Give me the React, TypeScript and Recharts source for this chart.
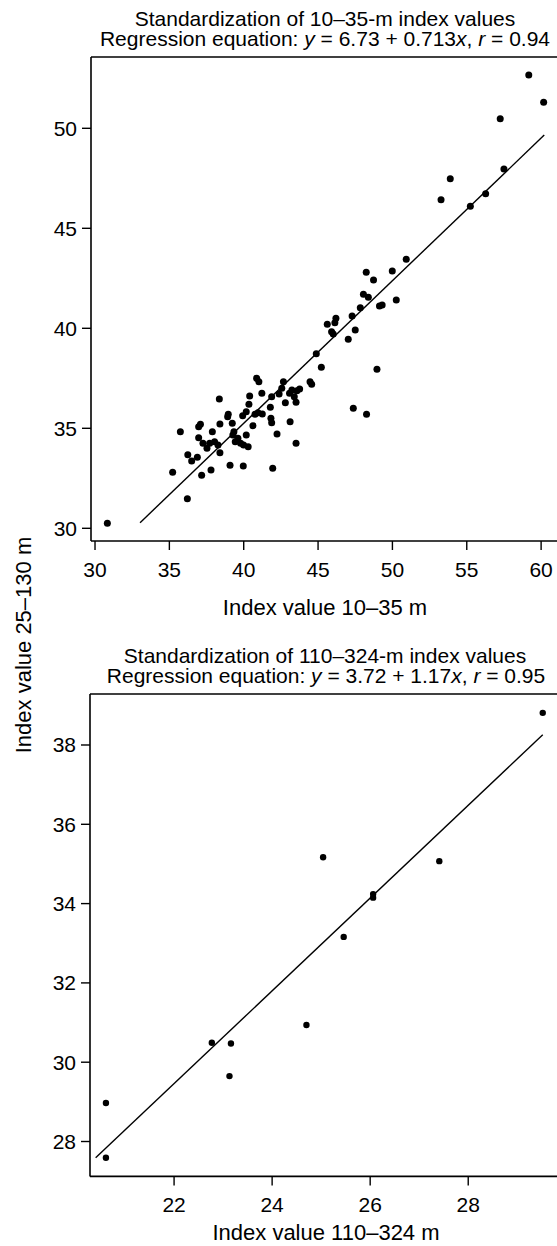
import React from 'react';
import { ScatterChart, Scatter, XAxis, YAxis, ReferenceLine } from 'recharts';

// ---------- Top panel: 10–35 m vs 25–130 m ----------
const topX = [
  30.83, 36.21, 35.22, 37.17, 37.8, 39.08, 39.97, 41.95, 35.74, 36.24,
  36.5, 36.88, 36.97, 37.09, 36.97, 37.26, 37.53, 37.71, 38.04, 38.27,
  37.89, 38.4, 38.4, 38.36, 38.92, 38.96, 39.23, 39.34, 39.27, 39.43,
  39.61, 39.79, 39.99, 40.17, 40.3, 39.93, 40.17, 40.35, 40.4, 40.62,
  40.76, 40.96, 41.25, 40.87, 41.02, 41.22, 41.79, 41.88, 41.83, 41.88,
  42.24, 42.38, 42.56, 42.67, 42.8, 43.08, 43.24, 43.4, 43.58, 43.76,
  43.52, 43.12, 43.52, 44.46, 44.57, 44.88, 45.22, 45.62, 46.2, 46.13,
  45.91, 46.02, 47.5, 47.03, 47.29, 47.84, 49.13, 49.31, 50.26, 48.05,
  48.38, 48.96, 47.37, 48.26, 48.24, 48.73, 49.99, 50.93, 53.27, 53.89,
  55.24, 56.27, 57.5, 57.25, 59.17, 60.17,
];
const topY = [
  30.25, 31.48, 32.8, 32.65, 32.92, 33.15, 33.12, 33.0, 34.83, 33.68,
  33.37, 33.55, 35.08, 35.2, 34.53, 34.25, 34.0, 34.25, 34.33, 34.17,
  34.83, 33.78, 35.22, 36.47, 35.58, 35.7, 35.25, 34.83, 34.67, 34.33,
  34.5, 34.25, 34.17, 34.67, 34.08, 35.63, 35.83, 36.2, 36.62, 35.13,
  35.7, 35.78, 35.72, 37.5, 37.33, 36.75, 36.05, 36.58, 35.5, 35.28,
  34.72, 36.72, 37.0, 37.33, 36.28, 36.75, 36.92, 36.58, 36.88, 36.97,
  36.3, 35.33, 34.25, 37.33, 37.2, 38.73, 38.05, 40.2, 40.5, 40.28,
  39.83, 39.71, 39.92, 39.45, 40.62, 41.03, 41.12, 41.17, 41.42, 41.7,
  41.55, 37.95, 36.0, 35.7, 42.8, 42.42, 42.87, 43.45, 46.43, 47.48,
  46.1, 46.73, 47.97, 50.48, 52.67, 51.3,
];
const topXTicks = [30, 35, 40, 45, 50, 55, 60];
const topYTicks = [30, 35, 40, 45, 50];
const topFit = { a: 6.73, b: 0.713, r: 0.94 };
const topFitX = [33.03, 60.21];

// ---------- Bottom panel: 110–324 m vs 25–130 m ----------
const bottomX = [29.52, 25.04, 27.41, 26.06, 26.06, 25.46, 24.7, 22.77, 23.16, 23.13, 20.61, 20.61];
const bottomY = [38.81, 35.17, 35.07, 34.24, 34.15, 33.16, 30.94, 30.49, 30.47, 29.65, 28.97, 27.59];
const bottomXTicks = [22, 24, 26, 28];
const bottomYTicks = [28, 30, 32, 34, 36, 38];
const bottomFit = { a: 3.72, b: 1.17, r: 0.95 };
const bottomFitX = [20.4, 29.52];

const FONT = '"Liberation Sans", Arial, Helvetica, sans-serif';

const zip = (xs: number[], ys: number[]) => xs.map((x, i) => ({ x, y: ys[i] }));
const fitLine = (xs: number[], f: { a: number; b: number }) => xs.map((x) => ({ x, y: f.a + f.b * x }));

const dotShape = (r: number) => (props: any) =>
  props.cx == null ? <g /> : <circle cx={props.cx} cy={props.cy} r={r} fill="#000" />;
const noShape = () => <g />;

type PanelProps = {
  top: number;
  height: number;
  margin: { top: number; right: number; bottom: number; left: number };
  yAxisWidth: number;
  xDomain: [number, number];
  yDomain: [number, number];
  xTicks: number[];
  yTicks: number[];
  points: { x: number; y: number }[];
  line: { x: number; y: number }[];
  r: number;
};

function Panel(p: PanelProps) {
  const tickStyle = { fontSize: 21, fill: '#000', fontFamily: FONT };
  return (
    <div style={{ position: 'absolute', left: 0, top: p.top }}>
      <ScatterChart width={600} height={p.height} margin={p.margin}>
        <XAxis
          type="number"
          dataKey="x"
          domain={p.xDomain}
          ticks={p.xTicks}
          allowDataOverflow
          height={60}
          tickSize={9}
          tickMargin={12}
          axisLine={{ stroke: '#000', strokeWidth: 1.6 }}
          tickLine={{ stroke: '#000', strokeWidth: 1.4 }}
          tick={tickStyle}
        />
        <YAxis
          type="number"
          dataKey="y"
          domain={p.yDomain}
          ticks={p.yTicks}
          allowDataOverflow
          width={p.yAxisWidth}
          tickSize={9}
          tickMargin={5}
          axisLine={{ stroke: '#000', strokeWidth: 1.6 }}
          tickLine={{ stroke: '#000', strokeWidth: 1.4 }}
          tick={tickStyle}
        />
        <ReferenceLine y={p.yDomain[1]} stroke="#000" strokeWidth={1.6} />
        <Scatter
          data={p.line}
          line={{ stroke: '#000', strokeWidth: 1.4 }}
          shape={noShape}
          isAnimationActive={false}
        />
        <Scatter data={p.points} shape={dotShape(p.r)} isAnimationActive={false} />
      </ScatterChart>
    </div>
  );
}

export default function App() {
  const textProps = { fontFamily: FONT, fontSize: 21, fill: '#000', textAnchor: 'middle' as const };
  return (
    <div
      style={{
        position: 'absolute',
        left: 0,
        top: 0,
        width: 557,
        height: 1246,
        overflow: 'hidden',
        background: '#fff',
      }}
    >
      <Panel
        top={0}
        height={620}
        margin={{ top: 57, right: 40, bottom: 19, left: 0 }}
        yAxisWidth={91}
        xDomain={[29.73, 61.27]}
        yDomain={[29.365, 53.565]}
        xTicks={topXTicks}
        yTicks={topYTicks}
        points={zip(topX, topY)}
        line={fitLine(topFitX, topFit)}
        r={3.5}
      />
      <Panel
        top={640}
        height={606}
        margin={{ top: 54, right: 40, bottom: 9.6, left: 0 }}
        yAxisWidth={90}
        xDomain={[20.285, 29.872]}
        yDomain={[27.12, 39.286]}
        xTicks={bottomXTicks}
        yTicks={bottomYTicks}
        points={zip(bottomX, bottomY)}
        line={fitLine(bottomFitX, bottomFit)}
        r={3.2}
      />
      <svg
        width={557}
        height={1246}
        style={{ position: 'absolute', left: 0, top: 0, pointerEvents: 'none' }}
      >
        <text x={325} y={26} {...textProps}>Standardization of 10–35-m index values</text>
        <text x={325} y={46} {...textProps}>
          Regression equation: <tspan fontStyle="italic">y</tspan> = {topFit.a} + {topFit.b}
          <tspan fontStyle="italic">x</tspan>, <tspan fontStyle="italic">r</tspan> = {topFit.r}
        </text>
        <text x={325} y={615} {...textProps} fontSize={22}>Index value 10–35 m</text>

        <text x={325} y={663} {...textProps}>Standardization of 110–324-m index values</text>
        <text x={326} y={683} {...textProps}>
          Regression equation: <tspan fontStyle="italic">y</tspan> = {bottomFit.a} + {bottomFit.b}
          <tspan fontStyle="italic">x</tspan>, <tspan fontStyle="italic">r</tspan> = {bottomFit.r}
        </text>
        <text x={326} y={1240} {...textProps} fontSize={22}>Index value 110–324 m</text>

        <text transform="translate(31,645) rotate(-90)" {...textProps} fontSize={22}>
          Index value 25–130 m
        </text>
      </svg>
    </div>
  );
}
